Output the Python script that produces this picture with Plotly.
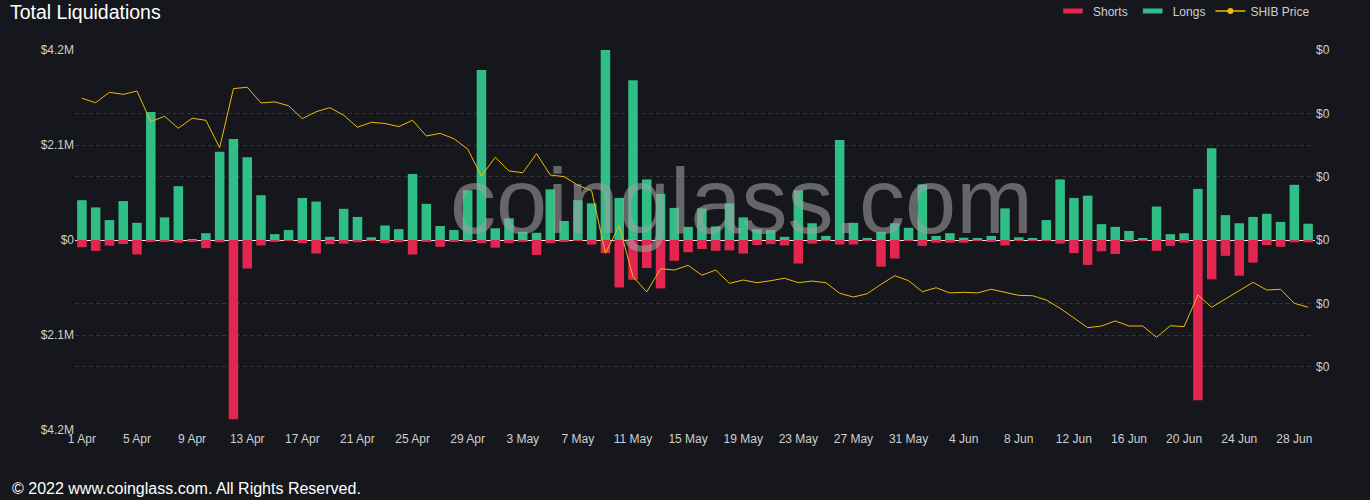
import plotly.graph_objects as go

# ---------------- data ----------------
dates = [
    "1 Apr", "2 Apr", "3 Apr", "4 Apr", "5 Apr", "6 Apr", "7 Apr", "8 Apr", "9 Apr", "10 Apr",
    "11 Apr", "12 Apr", "13 Apr", "14 Apr", "15 Apr", "16 Apr", "17 Apr", "18 Apr", "19 Apr", "20 Apr",
    "21 Apr", "22 Apr", "23 Apr", "24 Apr", "25 Apr", "26 Apr", "27 Apr", "28 Apr", "29 Apr", "30 Apr",
    "1 May", "2 May", "3 May", "4 May", "5 May", "6 May", "7 May", "8 May", "9 May", "10 May",
    "11 May", "12 May", "13 May", "14 May", "15 May", "16 May", "17 May", "18 May", "19 May", "20 May",
    "21 May", "22 May", "23 May", "24 May", "25 May", "26 May", "27 May", "28 May", "29 May", "30 May",
    "31 May",
    "1 Jun", "2 Jun", "3 Jun", "4 Jun", "5 Jun", "6 Jun", "7 Jun", "8 Jun", "9 Jun", "10 Jun",
    "11 Jun", "12 Jun", "13 Jun", "14 Jun", "15 Jun", "16 Jun", "17 Jun", "18 Jun", "19 Jun", "20 Jun",
    "21 Jun", "22 Jun", "23 Jun", "24 Jun", "25 Jun", "26 Jun", "27 Jun", "28 Jun", "29 Jun",
]

# long liquidations, $ millions
longs = [
    0.88, 0.72, 0.44, 0.86, 0.38, 2.83, 0.50, 1.19, 0.02, 0.15,
    1.95, 2.23, 1.83, 0.99, 0.13, 0.22, 0.93, 0.85, 0.07, 0.69,
    0.51, 0.06, 0.32, 0.24, 1.46, 0.80, 0.31, 0.22, 1.10, 3.76,
    0.26, 0.48, 0.18, 0.16, 1.12, 0.42, 0.88, 0.81, 4.20, 0.93,
    3.53, 1.34, 1.02, 0.71, 0.29, 0.70, 0.30, 0.81, 0.50, 0.24,
    0.22, 0.07, 1.10, 0.37, 0.09, 2.21, 0.38, 0.04, 0.18, 0.37,
    0.27,
    1.23, 0.09, 0.15, 0.05, 0.04, 0.09, 0.70, 0.06, 0.04, 0.44,
    1.34, 0.93, 0.98, 0.35, 0.29, 0.20, 0.04, 0.74, 0.13, 0.15,
    1.13, 2.03, 0.55, 0.37, 0.51, 0.58, 0.40, 1.22, 0.36,
]

# short liquidations, $ millions (magnitude)
shorts = [
    0.16, 0.24, 0.125, 0.09, 0.32, 0.04, 0.04, 0.06, 0.03, 0.18,
    0.05, 3.96, 0.63, 0.12, 0.04, 0.02, 0.07, 0.30, 0.09, 0.08,
    0.05, 0.01, 0.07, 0.05, 0.32, 0.04, 0.15, 0.03, 0.04, 0.07,
    0.17, 0.07, 0.03, 0.33, 0.07, 0.04, 0.01, 0.10, 0.29, 1.05,
    0.88, 0.62, 1.07, 0.46, 0.27, 0.20, 0.24, 0.23, 0.30, 0.11,
    0.09, 0.12, 0.52, 0.08, 0.01, 0.10, 0.10, 0.01, 0.59, 0.41,
    0.02,
    0.13, 0.06, 0.06, 0.06, 0.01, 0.04, 0.12, 0.01, 0.02, 0.01,
    0.08, 0.29, 0.55, 0.25, 0.31, 0.04, 0.01, 0.24, 0.13, 0.06,
    3.54, 0.87, 0.35, 0.79, 0.50, 0.11, 0.15, 0.05, 0.05,
]

# SHIB price, USD
shib_price = [
    2.619e-5, 2.584e-5, 2.666e-5, 2.650e-5, 2.676e-5, 2.434e-5, 2.477e-5, 2.382e-5, 2.461e-5, 2.445e-5,
    2.229e-5, 2.695e-5, 2.706e-5, 2.582e-5, 2.590e-5, 2.560e-5, 2.458e-5, 2.513e-5, 2.545e-5, 2.485e-5,
    2.390e-5, 2.429e-5, 2.420e-5, 2.395e-5, 2.445e-5, 2.321e-5, 2.342e-5, 2.300e-5, 2.218e-5, 2.005e-5,
    2.153e-5, 2.045e-5, 2.031e-5, 2.181e-5, 2.013e-5, 2.000e-5, 1.932e-5, 1.889e-5, 1.395e-5, 1.613e-5,
    1.210e-5, 1.090e-5, 1.273e-5, 1.263e-5, 1.300e-5, 1.222e-5, 1.263e-5, 1.158e-5, 1.184e-5, 1.163e-5,
    1.179e-5, 1.198e-5, 1.163e-5, 1.176e-5, 1.163e-5, 1.079e-5, 1.050e-5, 1.076e-5, 1.150e-5, 1.218e-5,
    1.179e-5,
    1.092e-5, 1.123e-5, 1.082e-5, 1.087e-5, 1.082e-5, 1.111e-5, 1.084e-5, 1.063e-5, 1.060e-5, 1.026e-5,
    9.61e-6, 8.87e-6, 8.08e-6, 8.21e-6, 8.61e-6, 8.21e-6, 8.21e-6, 7.32e-6, 8.23e-6, 8.16e-6,
    1.066e-5, 9.69e-6, 1.032e-5, 1.100e-5, 1.166e-5, 1.105e-5, 1.111e-5, 1.000e-5, 9.69e-6,
]

x_tick_labels = dates[::4]
left_tick_vals = [-4.2, -2.1, 0, 2.1, 4.2]
left_tick_text = ["$4.2M", "$2.1M", "$0", "$2.1M", "$4.2M"]
right_tick_vals = [5e-6, 1e-5, 1.5e-5, 2e-5, 2.5e-5, 3e-5]
right_tick_text = ["$0", "$0", "$0", "$0", "$0", "$0"]

# ---------------- style ----------------
BG = "#16171c"
GREEN = "#2fbe86"
RED = "#e2264f"
GOLD = "#f0b90b"
GRID = "#34353b"
TXT = "#cfcfd2"
FONT = "Liberation Sans, Arial, Helvetica, sans-serif"

fig = go.Figure()

fig.add_trace(go.Bar(
    x=dates, y=[-v for v in shorts], name="Shorts",
    marker=dict(color=RED, line=dict(width=0)), showlegend=False,
))
fig.add_trace(go.Bar(
    x=dates, y=longs, name="Longs",
    marker=dict(color=GREEN, line=dict(width=0)), showlegend=False,
))
fig.add_trace(go.Scatter(
    x=dates, y=shib_price, name="SHIB Price", yaxis="y2", mode="lines",
    line=dict(color=GOLD, width=1), showlegend=False,
))

# legend entries
fig.add_trace(go.Scatter(
    x=[None], y=[None], name="Shorts", mode="markers",
    marker=dict(symbol="line-ew", size=14, color=RED, line=dict(width=5, color=RED)),
))
fig.add_trace(go.Scatter(
    x=[None], y=[None], name="Longs", mode="markers",
    marker=dict(symbol="line-ew", size=14, color=GREEN, line=dict(width=5, color=GREEN)),
))
fig.add_trace(go.Scatter(
    x=[None], y=[None], name="SHIB Price", mode="lines+markers", yaxis="y2",
    line=dict(color=GOLD, width=1.5), marker=dict(size=6, color=GOLD),
))

fig.update_layout(
    width=1370, height=500,
    margin=dict(l=75, r=55, t=50, b=70, autoexpand=False),
    paper_bgcolor=BG, plot_bgcolor=BG,
    font=dict(family=FONT, size=12, color=TXT),
    barmode="relative", bargap=0.31,
    title=dict(
        text="Total Liquidations", x=10 / 1370, xanchor="left", xref="container",
        y=1 - 12 / 500, yanchor="middle", yref="container",
        font=dict(family=FONT, size=19.5, color="#ffffff"),
    ),
    legend=dict(
        orientation="h", x=1.0, xanchor="right", y=1 + 39 / 380, yanchor="middle",
        font=dict(family=FONT, size=12, color=TXT), bgcolor="rgba(0,0,0,0)",
        traceorder="normal",
    ),
    xaxis=dict(
        type="category", categoryorder="array", categoryarray=dates,
        tickmode="array", tickvals=x_tick_labels, ticktext=x_tick_labels,
        showgrid=False, zeroline=False, showline=False, ticks="",
        tickfont=dict(size=12, color=TXT),
    ),
    yaxis=dict(
        range=[-4.2, 4.2], tickmode="array", tickvals=left_tick_vals, ticktext=left_tick_text,
        showgrid=True, gridcolor=GRID, gridwidth=1, griddash="4px,3px",
        zeroline=True, zerolinecolor="#e8e8e8", zerolinewidth=1,
        showline=False, ticks="", tickfont=dict(size=12, color=TXT),
    ),
    yaxis2=dict(
        overlaying="y", side="right", range=[0, 3e-5],
        tickmode="array", tickvals=right_tick_vals, ticktext=right_tick_text,
        showgrid=True, gridcolor=GRID, gridwidth=1, griddash="4px,3px",
        zeroline=False, showline=False, ticks="", tickfont=dict(size=12, color=TXT),
    ),
    annotations=[
        dict(
            text="coinglass.com", xref="paper", yref="paper",
            x=(741 - 75) / 1240, y=(430 - 201) / 380, xanchor="center", yanchor="middle",
            showarrow=False, font=dict(family=FONT, size=92, color="rgba(160,160,162,0.58)"),
        ),
        dict(
            text="© 2022 www.coinglass.com. All Rights Reserved.", xref="paper", yref="paper",
            x=(10 - 75) / 1240, y=(430 - 488) / 380, xanchor="left", yanchor="middle",
            showarrow=False, font=dict(family=FONT, size=16, color="#ffffff"),
        ),
    ],
)

fig.write_html(
    "out.html",
    config={"displayModeBar": False},
    post_script="document.body.style.margin='0';",
)
